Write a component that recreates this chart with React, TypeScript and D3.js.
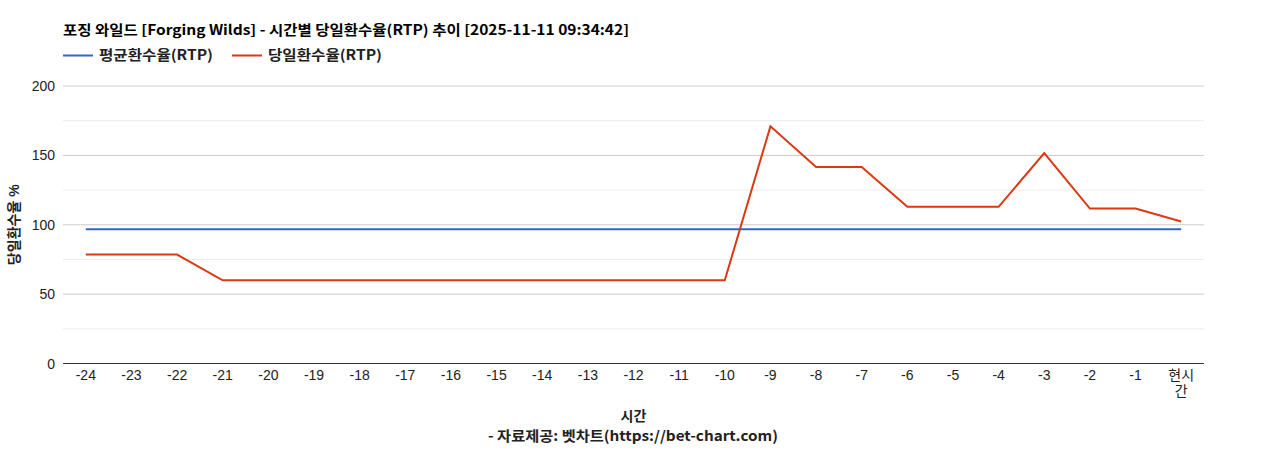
import { useEffect, useRef } from "react"
import * as d3 from "d3"

const title = "포징 와일드 [Forging Wilds] - 시간별 당일환수율(RTP) 추이 [2025-11-11 09:34:42]"
const hours = [
  "-24", "-23", "-22", "-21", "-20", "-19", "-18", "-17", "-16", "-15", "-14", "-13",
  "-12", "-11", "-10", "-9", "-8", "-7", "-6", "-5", "-4", "-3", "-2", "-1", "현시간",
]
const avgRtp = [
  96.8, 96.8, 96.8, 96.8, 96.8, 96.8, 96.8, 96.8, 96.8, 96.8, 96.8, 96.8,
  96.8, 96.8, 96.8, 96.8, 96.8, 96.8, 96.8, 96.8, 96.8, 96.8, 96.8, 96.8, 96.8,
]
const dayRtp = [
  78.5, 78.5, 78.5, 60, 60, 60, 60, 60, 60, 60, 60, 60,
  60, 60, 60, 170.9, 141.6, 141.6, 112.9, 112.9, 112.9, 151.7, 111.7, 111.7, 102.3,
]
const yTicks = [0, 50, 100, 150, 200]
const yMinor = [25, 75, 125, 175]
const seriesNames = ["평균환수율(RTP)", "당일환수율(RTP)"]
const colors = ["#3366cc", "#dc3912"]

export default function App() {
  const svgRef = useRef<SVGSVGElement>(null)

  useEffect(() => {
    if (!svgRef.current) return
    const svg = d3.select(svgRef.current)
    svg.selectAll("*").remove()

    const font = "Arial, 'Liberation Sans', 'Noto Sans CJK KR', sans-serif"
    const krFont = "'Noto Sans CJK KR', sans-serif"
    const margin = { left: 63, right: 1204, top: 86, bottom: 363.5 }

    const x = d3.scaleBand().domain(hours).range([margin.left, margin.right])
    const y = d3.scaleLinear().domain([0, 200]).range([margin.bottom, margin.top])
    const cx = (h: string) => (x(h) || 0) + x.bandwidth() / 2

    // minor grid
    svg.append("g").selectAll("line").data(yMinor).join("line")
      .attr("x1", margin.left).attr("x2", margin.right)
      .attr("y1", (d) => y(d)).attr("y2", (d) => y(d))
      .attr("stroke", "#ebebeb").attr("stroke-width", 1)

    // major grid
    svg.append("g").selectAll("line").data(yTicks.filter((d) => d > 0)).join("line")
      .attr("x1", margin.left).attr("x2", margin.right)
      .attr("y1", (d) => y(d)).attr("y2", (d) => y(d))
      .attr("stroke", "#cccccc").attr("stroke-width", 1)

    // y labels
    svg.append("g").selectAll("text").data(yTicks).join("text")
      .attr("x", 55).attr("y", (d) => y(d) + 5)
      .attr("text-anchor", "end")
      .attr("font-family", font).attr("font-size", 14).attr("fill", "#222")
      .text((d) => d)

    // x labels
    const xl = svg.append("g").selectAll("text").data(hours).join("text")
      .attr("x", (d) => cx(d)).attr("y", 380)
      .attr("text-anchor", "middle")
      .attr("font-family", font).attr("font-size", 14).attr("fill", "#222")
    xl.each(function (d) {
      const t = d3.select(this)
      if (d.length > 2 && !d.startsWith("-")) {
        t.append("tspan").attr("x", cx(d)).text(d.slice(0, 2))
        t.append("tspan").attr("x", cx(d)).attr("dy", 16).text(d.slice(2))
      } else {
        t.text(d)
      }
    })

    // lines
    const line = d3.line<number>()
      .x((_, i) => cx(hours[i]))
      .y((d) => y(d))
    ;[avgRtp, dayRtp].forEach((s, i) => {
      svg.append("path").datum(s)
        .attr("d", line)
        .attr("fill", "none")
        .attr("stroke", colors[i])
        .attr("stroke-width", 2)
    })

    // baseline
    svg.append("line")
      .attr("x1", margin.left).attr("x2", margin.right)
      .attr("y1", y(0)).attr("y2", y(0))
      .attr("stroke", "#333").attr("stroke-width", 1)

    // title (stretched to the reference width)
    svg.append("text")
      .attr("x", 63).attr("y", 35)
      .attr("font-family", krFont).attr("font-size", 14).attr("font-weight", "bold")
      .attr("fill", "#000")
      .attr("textLength", 566).attr("lengthAdjust", "spacingAndGlyphs")
      .text(title)

    // legend
    const legendX = [63, 232]
    seriesNames.forEach((n, i) => {
      svg.append("line")
        .attr("x1", legendX[i]).attr("x2", legendX[i] + 30)
        .attr("y1", 55.5).attr("y2", 55.5)
        .attr("stroke", colors[i]).attr("stroke-width", 2)
      svg.append("text")
        .attr("x", legendX[i] + 36).attr("y", 60)
        .attr("font-family", krFont).attr("font-size", 14).attr("font-weight", "bold")
        .attr("fill", "#222")
        .attr("textLength", 114).attr("lengthAdjust", "spacingAndGlyphs")
        .text(n)
    })

    // axis titles
    svg.append("text")
      .attr("x", (margin.left + margin.right) / 2).attr("y", 421)
      .attr("text-anchor", "middle")
      .attr("font-family", krFont).attr("font-size", 14).attr("font-weight", "bold")
      .attr("fill", "#222")
      .text("시간")
    svg.append("text")
      .attr("x", 488).attr("y", 441)
      .attr("font-family", krFont).attr("font-size", 14).attr("font-weight", "bold")
      .attr("fill", "#222")
      .attr("textLength", 290).attr("lengthAdjust", "spacingAndGlyphs")
      .text("- 자료제공: 벳차트(https://bet-chart.com)")
    svg.append("text")
      .attr("transform", `translate(19, ${(margin.top + margin.bottom) / 2}) rotate(-90)`)
      .attr("text-anchor", "middle")
      .attr("font-family", font).attr("font-size", 14).attr("font-weight", "bold")
      .attr("fill", "#222")
      .text("당일환수율 %")
  }, [])

  return (
    <div style={{ position: "absolute", left: 0, top: 0, background: "#fff" }}>
      <svg ref={svgRef} width={1268} height={450}></svg>
    </div>
  )
}
